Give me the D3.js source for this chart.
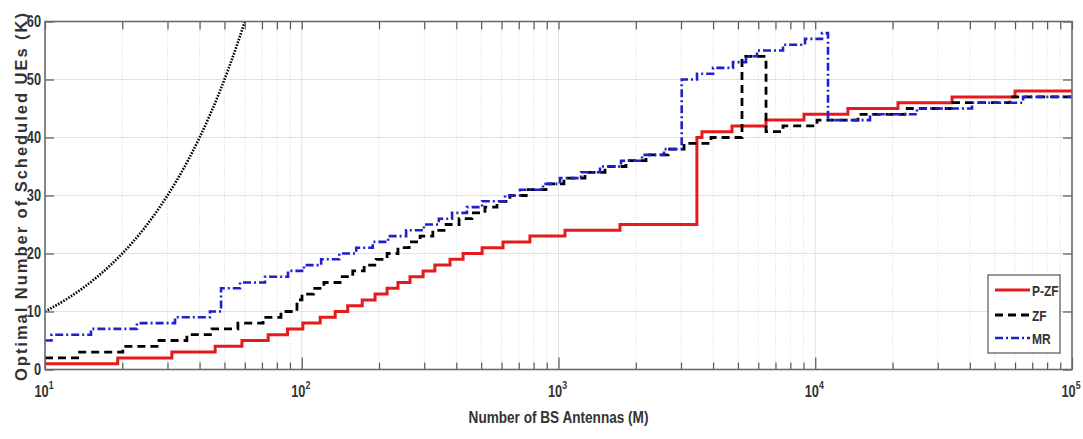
<!DOCTYPE html>
<html><head><meta charset="utf-8">
<script src="https://cdn.jsdelivr.net/npm/d3@7"></script>
<style>
html,body{margin:0;padding:0;background:#fff;}
svg{display:block;}
</style></head><body>
<svg id="chart" width="1083" height="439"></svg>
<script>
// ---- data ----
const pzfM = [10,19.2,31.2,46,58.5,74,88,101,118,135,151,172,193,215,237,264,297,330,378,425,504,608,774,1060,1736,3460,3620,4740,6430,9040,13400,21000,34100,60000];
const pzfK = [1,2,3,4,5,6,7,8,9,10,11,12,13,14,15,16,17,18,19,20,21,22,23,24,25,40,41,42,43,44,45,46,47,48];

const zfM = [10,13.4,20.1,27.8,35.7,44.7,56.4,70.7,83,95.8,100.2,111,122,141,158,175,195,215,237,262,289,324,365,410,460,517,576,647,761,894,1050,1268,1517,1832,2192,2670,3083,3926,5184,6431,7489,10158,14670,22360,34400,57340];
const zfK = [2,3,4,5,6,7,8,9,10,12,13,14,15,16,17,18,19,20,21,22,23,24,25,26,27,28,29,30,31,32,33,34,35,36,37,38,39,40,54,41,42,43,44,45,46,47];

const mrM = [10,10.6,15.1,22.8,32.1,43.9,48.5,57.5,71.9,88.4,102,119,140,163,189,217,255,299,342,385,440,504,619,708,870,1013,1224,1451,1752,2115,2576,3019,3463,3998,4783,5375,5931,7489,9124,10624,11211,16340,24900,40790,64480];
const mrK = [5,6,7,8,9,10,14,15,16,17,18,19,20,21,22,23,24,25,26,27,28,29,30,31,32,33,34,35,36,37,38,50,51,52,53,54,55,56,57,58,43,44,45,46,47];

const boundM = [10,12,14,16,18,20,22,25,28,30,33,36,40,44,48,52,56,60];
const boundK = [10,12,14,16,18,20,22,25,28,30,33,36,40,44,48,52,56,60];

const xMajor = [10,100,1000,10000,100000];
const xExp = ["1","2","3","4","5"];
const yTicks = [0,10,20,30,40,50,60];
const seriesNames = ["P-ZF","ZF","MR"];
const xLabel = "Number of BS Antennas (M)";
const yLabel = "Optimal Number of Scheduled UEs (K)";

// ---- layout ----
const L = 45, R = 1072, T = 21.5, B = 369.5;
const FONT = '"Liberation Sans",Arial,sans-serif';
const NARROW = 0.8;
const svg = d3.select("#chart");
const x = d3.scaleLog().domain([10, 1e5]).range([L, R]);
const y = d3.scaleLinear().domain([0, 60]).range([B, T]);

const xMinor = [];
for (let d = 10; d < 1e5; d *= 10) for (let k = 2; k <= 9; k++) xMinor.push(d * k);

function narrowText(px, py, anchor, size, weight) {
  return svg.append("g").attr("transform", `translate(${px},${py}) scale(${NARROW},1)`)
    .append("text").attr("x", 0).attr("y", 0).attr("text-anchor", anchor)
    .attr("font-family", FONT).attr("font-size", size).attr("font-weight", weight)
    .attr("fill", "#333");
}

// grid
const grid = svg.append("g");
grid.selectAll("line.ym").data(yTicks.slice(1, -1)).enter().append("line")
  .attr("x1", L).attr("x2", R).attr("y1", d => y(d)).attr("y2", d => y(d))
  .attr("stroke", "#e2e2e2").attr("stroke-width", 1);
grid.selectAll("line.xn").data(xMinor).enter().append("line")
  .attr("x1", d => x(d)).attr("x2", d => x(d)).attr("y1", T).attr("y2", B)
  .attr("stroke", "#d4d4d4").attr("stroke-width", 1).attr("stroke-dasharray", "1,2");
grid.selectAll("line.xm").data(xMajor.slice(1, -1)).enter().append("line")
  .attr("x1", d => x(d)).attr("x2", d => x(d)).attr("y1", T).attr("y2", B)
  .attr("stroke", "#e2e2e2").attr("stroke-width", 1);

// clip
svg.append("clipPath").attr("id", "clip").append("rect")
  .attr("x", L).attr("y", T).attr("width", R - L).attr("height", B - T);

const plot = svg.append("g").attr("clip-path", "url(#clip)");
const stepLine = d3.line().x(d => x(d[0])).y(d => y(d[1])).curve(d3.curveStepAfter);
function pts(M, K) {
  const p = M.map((m, i) => [m, K[i]]);
  p.push([1e5, K[K.length - 1]]);
  return p;
}
const styles = [
  {M: pzfM, K: pzfK, color: "#e41a1c", w: 3, dash: null},
  {M: zfM, K: zfK, color: "#000000", w: 2.8, dash: "8,5"},
  {M: mrM, K: mrK, color: "#1f1fcc", w: 2.6, dash: "8,3,2,3"}
];
styles.forEach(s => {
  plot.append("path").datum(pts(s.M, s.K)).attr("d", stepLine)
    .attr("fill", "none").attr("stroke", s.color).attr("stroke-width", s.w)
    .attr("stroke-dasharray", s.dash);
});
const bound = d3.line().x(d => x(d[0])).y(d => y(d[1])).curve(d3.curveMonotoneX);
plot.append("path").datum(boundM.map((m, i) => [m, boundK[i]])).attr("d", bound)
  .attr("fill", "none").attr("stroke", "#000").attr("stroke-width", 2.6)
  .attr("stroke-dasharray", "1.6,1.4");

// axes (inward ticks)
const gBot = svg.append("g").attr("transform", `translate(0,${B})`);
gBot.call(d3.axisBottom(x).tickValues(xMajor).tickSize(-12).tickFormat(""));
const gBotMin = svg.append("g").attr("transform", `translate(0,${B})`);
gBotMin.call(d3.axisBottom(x).tickValues(xMinor).tickSize(-7).tickFormat(""));
const gTop = svg.append("g").attr("transform", `translate(0,${T})`);
gTop.call(d3.axisTop(x).tickValues(xMajor.concat(xMinor)).tickSize(-8).tickFormat(""));
const gLeft = svg.append("g").attr("transform", `translate(${L},0)`);
gLeft.call(d3.axisLeft(y).tickValues(yTicks).tickSize(-9).tickFormat(""));
const gRight = svg.append("g").attr("transform", `translate(${R},0)`);
gRight.call(d3.axisRight(y).tickValues(yTicks).tickSize(-9).tickFormat(""));
[gBot, gBotMin, gTop, gLeft, gRight].forEach(g => {
  g.select(".domain").remove();
  g.selectAll(".tick line").attr("stroke", "#555").attr("stroke-width", 1.2);
});

// frame
svg.append("rect").attr("x", L).attr("y", T).attr("width", R - L).attr("height", B - T)
  .attr("fill", "none").attr("stroke", "#6a6a6a").attr("stroke-width", 1.6);

// y tick labels
yTicks.forEach(v => {
  narrowText(41, y(v) + 5.5, "end", 16, "bold").text(d3.format("d")(v));
});

// x tick labels with superscripts
xMajor.forEach((v, i) => {
  const t = narrowText(x(v) - 1, 397, "middle", 16, "bold");
  t.append("tspan").text("10");
  t.append("tspan").attr("dy", -8).attr("font-size", 11).text(xExp[i]);
});

// axis labels
narrowText(x(1000), 423, "middle", 17, "bold").text(xLabel);
svg.append("text").attr("transform", "translate(27,197) rotate(-90)").attr("text-anchor", "middle")
  .attr("font-family", FONT).attr("font-size", 16.5).attr("font-weight", "bold")
  .attr("fill", "#333").attr("textLength", 368).attr("lengthAdjust", "spacing")
  .text(yLabel);

// legend
const lg = svg.append("g");
lg.append("rect").attr("x", 988).attr("y", 275).attr("width", 72).attr("height", 78)
  .attr("fill", "#fff").attr("stroke", "#555").attr("stroke-width", 1.2);
const ly = [290, 315, 338];
styles.forEach((s, i) => {
  lg.append("line").attr("x1", 995).attr("x2", 1030).attr("y1", ly[i]).attr("y2", ly[i])
    .attr("stroke", s.color).attr("stroke-width", s.w).attr("stroke-dasharray", s.dash);
  narrowText(1032, ly[i] + 5.5, "start", 15, "bold").text(seriesNames[i]);
});
</script>
</body></html>
